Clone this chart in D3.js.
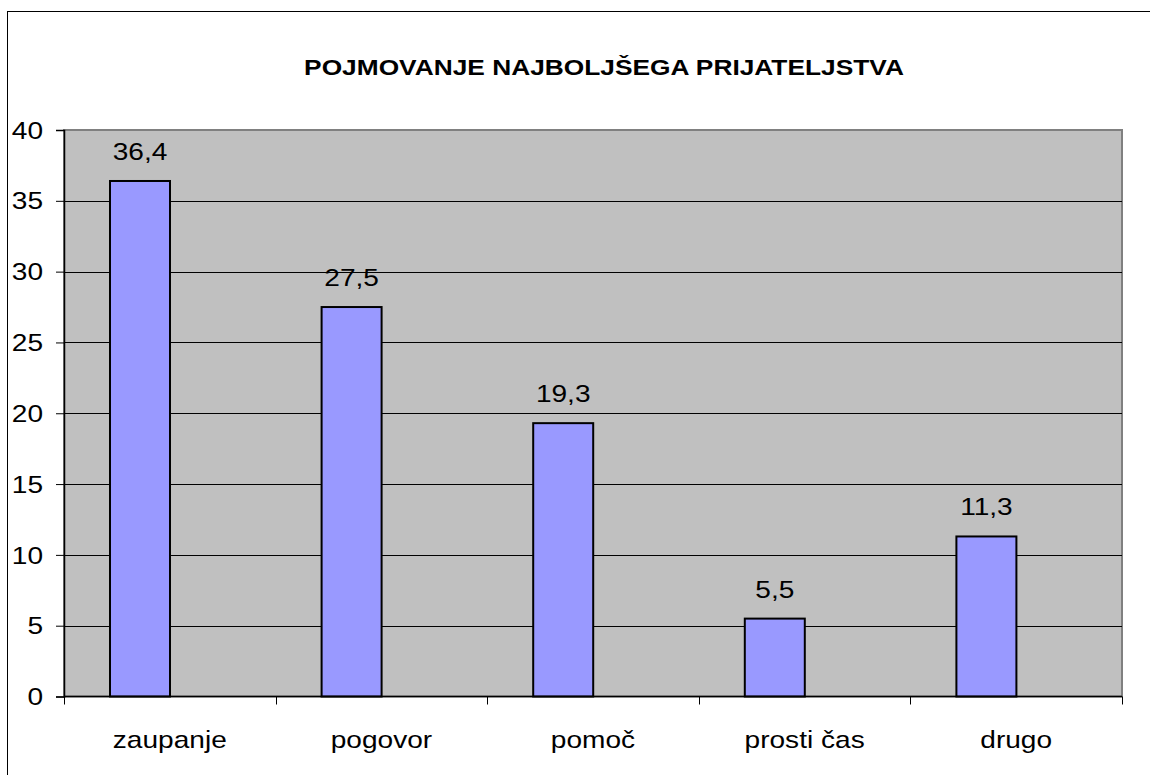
<!DOCTYPE html>
<html>
<head>
<meta charset="utf-8">
<script src="https://cdn.jsdelivr.net/npm/d3@7"></script>
<style>
  body { margin: 0; background: white; }
  svg { display: block; font-family: "Liberation Sans", Arial, sans-serif; }
</style>
</head>
<body>
<div id="chart"></div>
<script>
// Data
var categories = ['zaupanje', 'pogovor', 'pomoč', 'prosti čas', 'drugo']
var values = [36.4, 27.5, 19.3, 5.5, 11.3]
var series = ['delež', 'prazno'] // second series is empty, it only shifts the bars
var yTicks = [0, 5, 10, 15, 20, 25, 30, 35, 40]
var title = 'POJMOVANJE NAJBOLJŠEGA PRIJATELJSTVA'

var chart = { width: 1150, height: 775 }
var plot = { left: 64, right: 1122, top: 130, bottom: 696.5 }
// the original text is a little wider than it is tall
var stretch = 1.17

function place(x, y) {
  return `translate(${x},${y}) scale(${stretch},1)`
}

chart.svg = d3.select('#chart')
  .append('svg')
  .attr('width', chart.width)
  .attr('height', chart.height)

// outer frame (runs off the bottom right of the picture)
chart.svg.append('rect')
  .attr('x', 7.5).attr('y', 11.5)
  .attr('width', 1200).attr('height', 900)
  .attr('fill', 'white')
  .attr('stroke', 'black')

chart.svg.append('text')
  .attr('transform', place(604, 75))
  .attr('text-anchor', 'middle')
  .style('font-size', '22.5px')
  .style('font-weight', 'bold')
  .text(title)

var x = d3.scaleBand()
  .domain(categories)
  .range([plot.left, plot.right])

var xInner = d3.scaleBand()
  .domain(series)
  .range([46, 166])

var y = d3.scaleLinear()
  .domain([0, 40])
  .range([plot.bottom, plot.top])

// plot background
chart.svg.append('rect')
  .attr('x', plot.left).attr('y', plot.top)
  .attr('width', plot.right - plot.left)
  .attr('height', plot.bottom - plot.top)
  .attr('fill', '#c0c0c0')
  .attr('stroke', '#808080')
  .attr('stroke-width', 2)

// gridlines
chart.svg.selectAll('line.grid')
  .data(yTicks.filter(d => d > 0 && d < 40))
  .enter()
  .append('line')
  .attr('class', 'grid')
  .attr('x1', plot.left).attr('x2', plot.right)
  .attr('y1', d => Math.round(y(d)) + 0.5)
  .attr('y2', d => Math.round(y(d)) + 0.5)
  .attr('stroke', 'black')

// bars
chart.svg.selectAll('rect.bar')
  .data(values)
  .enter()
  .append('rect')
  .attr('class', 'bar')
  .attr('x', (d, i) => x(categories[i]) + xInner(series[0]))
  .attr('y', d => y(d))
  .attr('width', xInner.bandwidth())
  .attr('height', d => plot.bottom - y(d))
  .attr('fill', '#9999ff')
  .attr('stroke', 'black')
  .attr('stroke-width', 2)

// value labels
chart.svg.selectAll('text.value')
  .data(values)
  .enter()
  .append('text')
  .attr('class', 'value')
  .attr('transform', (d, i) => place(x(categories[i]) + xInner(series[0]) + xInner.bandwidth() / 2, y(d) - 21))
  .attr('text-anchor', 'middle')
  .style('font-size', '24px')
  .text(d => d3.format('.1f')(d).replace('.', ','))

// y axis
var yAxis = d3.axisLeft(y)
  .tickValues(yTicks)
  .tickSize(8)
  .tickPadding(13)

var yAxisG = chart.svg.append('g')
  .attr('transform', `translate(${plot.left},0)`)
  .call(yAxis)
yAxisG.attr('font-family', null).attr('font-size', null)
yAxisG.select('.domain').attr('stroke', 'black').attr('stroke-width', 1.5)
yAxisG.selectAll('.tick line').attr('stroke', 'black')
yAxisG.selectAll('.tick text')
  .attr('x', null)
  .attr('dy', '0.34em')
  .attr('transform', place(-21, 0))
  .attr('fill', 'black')
  .style('font-size', '24px')

// x axis
var xAxisG = chart.svg.append('g')
  .attr('transform', `translate(0,${plot.bottom})`)
xAxisG.append('line')
  .attr('x1', plot.left).attr('x2', plot.right)
  .attr('stroke', 'black').attr('stroke-width', 1.5)
xAxisG.selectAll('line.tick')
  .data(categories.concat(['end']))
  .enter()
  .append('line')
  .attr('class', 'tick')
  .attr('x1', (d, i) => Math.round(plot.left + i * x.step()) + 0.5)
  .attr('x2', (d, i) => Math.round(plot.left + i * x.step()) + 0.5)
  .attr('y1', 0).attr('y2', 8)
  .attr('stroke', 'black')
xAxisG.selectAll('text')
  .data(categories)
  .enter()
  .append('text')
  .attr('transform', d => place(x(d) + x.bandwidth() / 2, 51.5))
  .attr('text-anchor', 'middle')
  .style('font-size', '24px')
  .text(d => d)
</script>
</body>
</html>
